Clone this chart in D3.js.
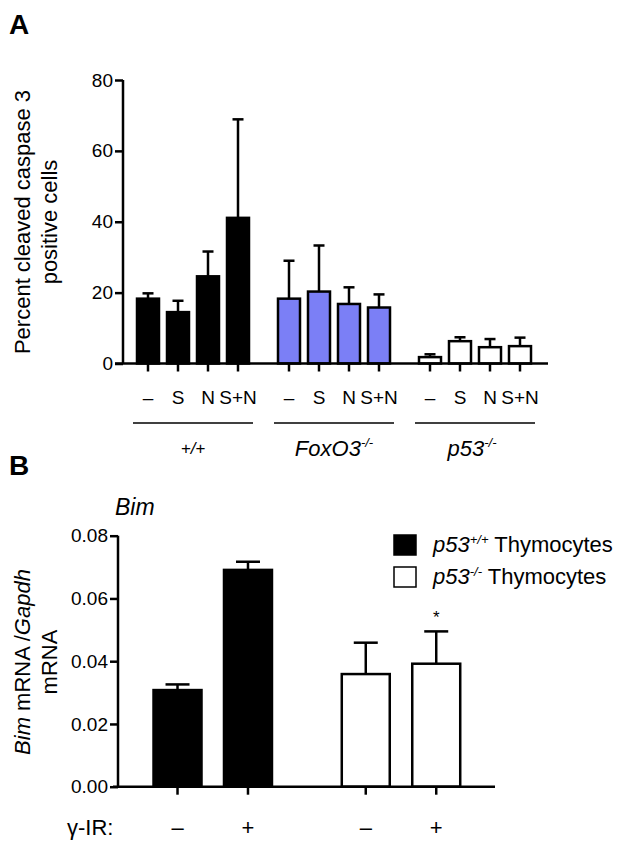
<!DOCTYPE html>
<html>
<head>
<meta charset="utf-8">
<script src="https://cdn.jsdelivr.net/npm/d3@7"></script>
<style>
  body { margin: 0; background: #fff; }
  svg { display: block; font-family: "Liberation Sans", Arial, sans-serif; }
</style>
</head>
<body>
<svg id="chart" width="630" height="850"></svg>
<script>
// ---------- Panel A data ----------
const condA = ["–", "S", "N", "S+N"];
const genoA = ["wt", "foxo3", "p53"];
const meanWt    = [18.3, 14.5, 24.6, 41.1];
const semWt     = [1.5, 3.2, 7.0, 27.8];
const meanFoxo3 = [18.3, 20.3, 16.8, 15.8];
const semFoxo3  = [10.7, 13.0, 4.7, 3.7];
const meanP53   = [1.8, 6.3, 4.6, 4.9];
const semP53    = [0.8, 1.1, 2.3, 2.4];
const ticksA = [0, 20, 40, 60, 80];

// ---------- Panel B data ----------
const irB = ["–", "+"];
const genoB = ["p53wt", "p53ko"];
const meanP53wt = [0.0308, 0.0691];
const semP53wt  = [0.0018, 0.0026];
const meanP53ko = [0.0359, 0.0392];
const semP53ko  = [0.0100, 0.0103];
const ticksB = [0, 0.02, 0.04, 0.06, 0.08];

const svg = d3.select("#chart");
const black = "#000";
const blue = "#7b7ff6";

// ================= PANEL A =================
const dataA = [
  { g: "wt", fill: black, mean: meanWt, sem: semWt },
  { g: "foxo3", fill: blue, mean: meanFoxo3, sem: semFoxo3 },
  { g: "p53", fill: "#fff", mean: meanP53, sem: semP53 }
];
const yA = d3.scaleLinear().domain([0, 80]).range([363.5, 80]);
const xA0 = d3.scaleBand().domain(genoA).range([133, 535]).paddingInner(21 / 141).paddingOuter(0);
const xA1 = d3.scaleBand().domain(condA).range([0, xA0.bandwidth()]).paddingInner(8 / 30).paddingOuter(4 / 30);

svg.append("text").attr("x", 9).attr("y", 34).attr("font-size", 28).attr("font-weight", "bold").text("A");

const gA = svg.append("g");
// y axis
const yAxisA = d3.axisLeft(yA).tickValues(ticksA).tickFormat(d3.format("d")).tickSize(8).tickSizeOuter(0);
const ya = gA.append("g").attr("transform", "translate(123,0)").call(yAxisA);
ya.select(".domain").attr("stroke-width", 2.5).attr("d", `M0,${yA(80)}V${yA(0)}`);
ya.selectAll(".tick line").attr("stroke-width", 2.5);
ya.selectAll(".tick text").attr("font-size", 19).attr("fill", "#000").attr("x", -10).attr("font-family", "Liberation Sans, Arial, sans-serif");

// bars
dataA.forEach(gr => {
  const gx = xA0(gr.g);
  condA.forEach((c, i) => {
    const cx = gx + xA1(c) + xA1.bandwidth() / 2;
    const top = yA(gr.mean[i]);
    const errTop = yA(gr.mean[i] + gr.sem[i]);
    gA.append("line").attr("x1", cx).attr("x2", cx).attr("y1", top).attr("y2", errTop)
      .attr("stroke", black).attr("stroke-width", 2.5);
    gA.append("line").attr("x1", cx - 5.5).attr("x2", cx + 5.5).attr("y1", errTop).attr("y2", errTop)
      .attr("stroke", black).attr("stroke-width", 2.5);
    gA.append("rect").attr("x", gx + xA1(c)).attr("y", top)
      .attr("width", xA1.bandwidth()).attr("height", yA(0) - top)
      .attr("fill", gr.fill).attr("stroke", black).attr("stroke-width", 2.5);
    // tick
    gA.append("line").attr("x1", cx).attr("x2", cx).attr("y1", yA(0)).attr("y2", yA(0) + 8)
      .attr("stroke", black).attr("stroke-width", 2.5);
    gA.append("text").attr("x", cx).attr("y", 404).attr("text-anchor", "middle")
      .attr("font-size", 19).text(c);
  });
  // group underline
  gA.append("line").attr("x1", gx).attr("x2", gx + xA0.bandwidth()).attr("y1", 423).attr("y2", 423)
    .attr("stroke", black).attr("stroke-width", 1.3);
});
// x axis baseline
gA.append("line").attr("x1", 115).attr("x2", 548).attr("y1", yA(0)).attr("y2", yA(0))
  .attr("stroke", black).attr("stroke-width", 2.5);

// group labels
const labA = gA.append("g").attr("font-style", "italic");
function cA(g) { return xA0(g) + xA0.bandwidth() / 2; }
labA.append("text").attr("x", cA("wt")).attr("y", 454).attr("text-anchor", "middle").attr("font-size", 17).text("+/+");
const tf = labA.append("text").attr("x", cA("foxo3")).attr("y", 456).attr("text-anchor", "middle").attr("font-size", 22);
tf.append("tspan").text("FoxO3");
tf.append("tspan").attr("font-size", 13).attr("dy", -9).text("-/-");
const tp = labA.append("text").attr("x", cA("p53") - 3).attr("y", 456).attr("text-anchor", "middle").attr("font-size", 22);
tp.append("tspan").text("p53");
tp.append("tspan").attr("font-size", 13).attr("dy", -9).text("-/-");

// y label A
const ylA = svg.append("text").attr("transform", "translate(30,222) rotate(-90)").attr("text-anchor", "middle").attr("font-size", 22);
ylA.append("tspan").attr("x", 0).attr("y", 0).text("Percent cleaved caspase 3");
ylA.append("tspan").attr("x", 0).attr("y", 27).text("positive cells");

// ================= PANEL B =================
const dataB = [
  { g: "p53wt", fill: black, mean: meanP53wt, sem: semP53wt },
  { g: "p53ko", fill: "#fff", mean: meanP53ko, sem: semP53ko }
];
const yB = d3.scaleLinear().domain([0, 0.08]).range([786.7, 535.7]);
const xB0 = d3.scaleBand().domain(genoB).range([142.25, 471.5]).paddingInner(0.251).paddingOuter(0);
const xB1 = d3.scaleBand().domain(irB).range([0, xB0.bandwidth()]).paddingInner(22.5 / 70.5).paddingOuter(0.16);

svg.append("text").attr("x", 9).attr("y", 475).attr("font-size", 28).attr("font-weight", "bold").text("B");
svg.append("text").attr("x", 115).attr("y", 515).attr("font-size", 23).attr("font-style", "italic").text("Bim");

const gB = svg.append("g");
const yAxisB = d3.axisLeft(yB).tickValues(ticksB).tickFormat(d3.format(".2f")).tickSize(8).tickSizeOuter(0);
const yb = gB.append("g").attr("transform", "translate(118,0)").call(yAxisB);
yb.select(".domain").attr("stroke-width", 2.5).attr("d", `M0,${yB(0.08)}V${yB(0)}`);
yb.selectAll(".tick line").attr("stroke-width", 2.5);
yb.selectAll(".tick text").attr("font-size", 19).attr("fill", "#000").attr("x", -10).attr("font-family", "Liberation Sans, Arial, sans-serif");

dataB.forEach(gr => {
  const gx = xB0(gr.g);
  irB.forEach((c, i) => {
    const bx = gx + xB1(c);
    const bw = xB1.bandwidth();
    const cx = bx + bw / 2;
    const top = yB(gr.mean[i]);
    const errTop = yB(gr.mean[i] + gr.sem[i]);
    gB.append("line").attr("x1", cx).attr("x2", cx).attr("y1", top).attr("y2", errTop)
      .attr("stroke", black).attr("stroke-width", 2.5);
    gB.append("line").attr("x1", cx - 12).attr("x2", cx + 12).attr("y1", errTop).attr("y2", errTop)
      .attr("stroke", black).attr("stroke-width", 2.5);
    gB.append("rect").attr("x", bx).attr("y", top).attr("width", bw).attr("height", yB(0) - top)
      .attr("fill", gr.fill).attr("stroke", black).attr("stroke-width", 2.5);
    gB.append("line").attr("x1", cx).attr("x2", cx).attr("y1", yB(0)).attr("y2", yB(0) + 8)
      .attr("stroke", black).attr("stroke-width", 2.5);
    gB.append("text").attr("x", cx).attr("y", 835).attr("text-anchor", "middle").attr("font-size", 22).text(c);
  });
});
gB.append("line").attr("x1", 113).attr("x2", 495).attr("y1", yB(0)).attr("y2", yB(0))
  .attr("stroke", black).attr("stroke-width", 2.5);

// significance star
{
  const gx = xB0("p53ko");
  const cx = gx + xB1("+") + xB1.bandwidth() / 2;
  gB.append("text").attr("x", cx).attr("y", yB(meanP53ko[1] + semP53ko[1]) - 8).attr("text-anchor", "middle").attr("font-size", 17).text("*");
}

gB.append("text").attr("x", 67).attr("y", 835).attr("font-size", 22).text("γ-IR:");

// y label B
const ylB = svg.append("text").attr("transform", "translate(30,662) rotate(-90)").attr("text-anchor", "middle").attr("font-size", 22);
const l1 = ylB.append("tspan").attr("x", 0).attr("y", 0);
l1.append("tspan").attr("font-style", "italic").text("Bim");
l1.append("tspan").text(" mRNA /");
l1.append("tspan").attr("font-style", "italic").text("Gapdh");
ylB.append("tspan").attr("x", 0).attr("y", 27).text("mRNA");

// legend
const legend = [
  { fill: black, sup: "+/+" },
  { fill: "#fff", sup: "-/-" }
];
const lg = svg.append("g");
legend.forEach((d, i) => {
  const y0 = 535 + i * 32;
  lg.append("rect").attr("x", 394).attr("y", y0).attr("width", 22).attr("height", 20)
    .attr("fill", d.fill).attr("stroke", black).attr("stroke-width", 1.5);
  const t = lg.append("text").attr("x", 433).attr("y", y0 + 17).attr("font-size", 22);
  t.append("tspan").attr("font-style", "italic").text("p53");
  t.append("tspan").attr("font-style", "italic").attr("font-size", 13).attr("dy", -8).text(d.sup);
  t.append("tspan").attr("dy", 8).text(" Thymocytes");
});
</script>
</body>
</html>
